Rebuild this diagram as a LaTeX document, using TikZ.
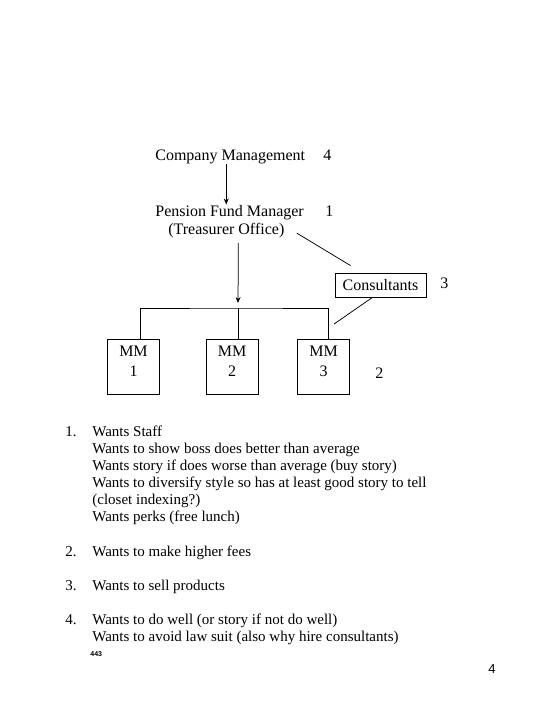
\documentclass[tikz,border=0pt]{standalone}
\usepackage{fontspec}
\setmainfont{Liberation Serif}
\newfontfamily\pagefont{Liberation Sans}
\usetikzlibrary{arrows.meta}
\usetikzlibrary{positioning}

\begin{document}
\begin{tikzpicture}[x=1pt, y=-1pt, line width=0.75pt,
	txt/.style={inner sep=0pt, anchor=base west, font=\fontsize{16}{18}\selectfont},
	box/.style={draw, inner sep=0pt, minimum width=91pt, minimum height=24pt, font=\fontsize{16}{18}\selectfont},
	mmbox/.style={draw, inner sep=0pt, minimum width=52pt, minimum height=55pt},
	mmtxt/.style={inner sep=0pt, anchor=north, align=center, yshift=-7pt, font=\fontsize{16}{20}\selectfont},
	item/.style={inner sep=0pt, anchor=base west, align=left, font=\fontsize{15}{17}\selectfont},
	pfeil/.style={-{Stealth[length=6pt, width=5pt]}}]

	\useasboundingbox (0,0) rectangle (540,720);

	% Ebene 1
	\node[txt] (cm) at (155,160) {Company Management};
	\node[txt] (cmnum) at (323,160) {4};

	% Ebene 2
	\node[txt] (pfm) at (155,216) {Pension Fund Manager};
	\node[txt] (pfmnum) at (325,216) {1};
	\node[txt] (treas) at (168,234) {(Treasurer Office)};

	\coordinate (a1) at ([xshift=-4pt]cm.south);
	\draw[pfeil] (a1) -- (a1 |- pfm.north);

	\node[box] (cons) at (380.5,285) {Consultants};
	\node[txt] (consnum) at (440,288) {3};

	% Ebene 3
	\node[mmbox] (mm1) at (133.5,367) {};
	\node[mmtxt] (mmt1) at (mm1.north) {MM\\1};
	\node[mmbox] (mm2) at (232,367) {};
	\node[mmtxt] (mmt2) at (mm2.north) {MM\\2};
	\node[mmbox] (mm3) at (323.5,367) {};
	\node[mmtxt] (mmt3) at (mm3.north) {MM\\3};
	\node[txt] (mmnum) at (375,378) {2};

	\coordinate (bus) at (238,308);

	\draw[pfeil, shorten >=5pt] ([xshift=12pt,yshift=-5pt]treas.south) -- (bus);
	\draw ([xshift=7pt]mm1.north) |- (bus) -| ([xshift=5pt]mm3.north);
	\draw (bus) -- ([xshift=6pt]mm2.north);

	\draw ([xshift=12pt,yshift=-3pt]treas.east) -- ([xshift=16pt,yshift=7pt]cons.north west);
	\draw ([xshift=-8pt]cons.south) -- ([xshift=-16pt,yshift=15pt]mm3.north east);

	% Liste (base = letzte Zeile)
	\node[item] (n1) at (65,436) {1.};
	\node[item] (l1) at (92,521) {Wants Staff\\
		Wants to show boss does better than average\\
		Wants story if does worse than average (buy story)\\
		Wants to diversify style so has at least good story to tell\\
		(closet indexing?)\\
		Wants perks (free lunch)};

	\node[item] (n2) at (65,556) {2.};
	\node[item] (l2) at (92,556) {Wants to make higher fees};

	\node[item] (n3) at (65,590) {3.};
	\node[item] (l3) at (92,590) {Wants to sell products};

	\node[item] (n4) at (65,624) {4.};
	\node[item] (l4) at (92,641) {Wants to do well (or story if not do well)\\
		Wants to avoid law suit (also why hire consultants)};

	\node[inner sep=0pt, anchor=base west, font=\pagefont\bfseries\fontsize{7}{8}\selectfont] (code) at (90,656) {443};
	\node[inner sep=0pt, anchor=base west, font=\pagefont\fontsize{13}{15}\selectfont] (page) at (488,673) {4};
\end{tikzpicture}
\end{document}
